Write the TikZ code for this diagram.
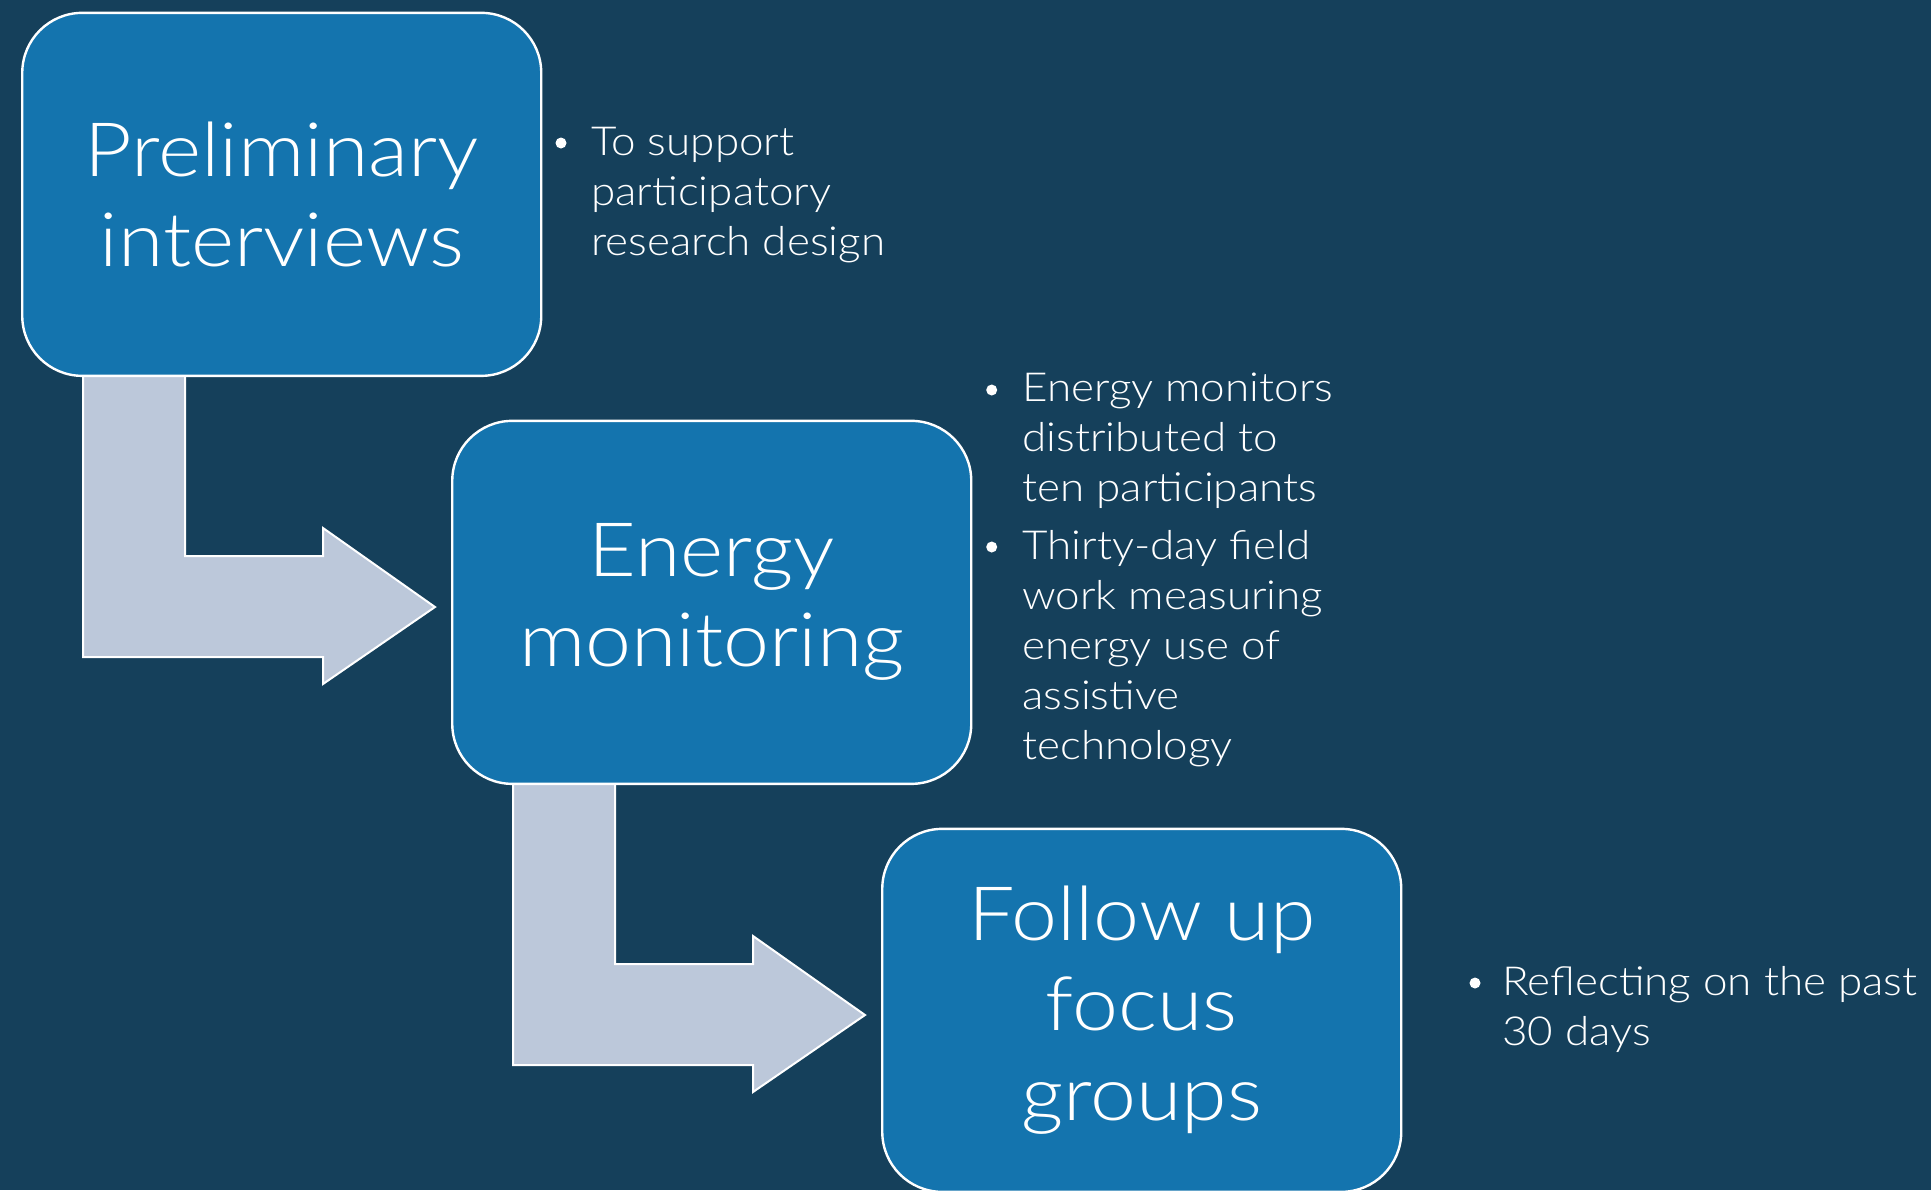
\documentclass[tikz,border=0pt]{standalone}
\usepackage{fontspec}
\setmainfont{Lato Light}[FakeStretch=1.1]
\usetikzlibrary{calc}

\definecolor{bgblue}{RGB}{21,64,91}
\definecolor{stageblue}{RGB}{20,116,174}
\definecolor{arrowgrey}{RGB}{188,200,218}

% a list of lines whose baseline is that of its first line
\newcommand{\notelines}[1]{\begin{tabular}[t]{@{}l@{}}#1\end{tabular}}

\tikzset{
  stage/.style={draw=white, line width=1.2pt, fill=stageblue, rounded corners=30pt,
    minimum width=259.5pt, minimum height=181.5pt, inner sep=0pt,
    text=white, align=center, font=\fontsize{37.5}{45}\selectfont},
  note/.style={text=white, anchor=base west, inner sep=0pt,
    font=\fontsize{20}{25}\selectfont},
  dot/.style={fill=white},
  flowarrow/.style={draw=white, line width=1pt, fill=arrowgrey, line join=miter},
  bentarrow/.pic={
    \draw[flowarrow] (61,-4) -- (163,-4) -- (163,180) -- (301,180) -- (301,152)
      -- (413,231) -- (301,308) -- (301,281) -- (61,281) -- cycle;
  }
}

\begin{document}
\begin{tikzpicture}[x=0.5pt, y=-0.5pt]
  \useasboundingbox (0,0) rectangle (1931,1190);
  \fill[bgblue] (0,0) rectangle (1931,1190);

  % bent arrows between the stages (drawn first, boxes cover their tops)
  \coordinate (a1) at (22,376);
  \coordinate (a2) at (452,784);
  \pic at (a1) {bentarrow};
  \pic at (a2) {bentarrow};

  % stages
  \node[stage] (s1) at (281.75,194.35) {Preliminary\\interviews};
  \node[stage] (s2) at (711.75,602.35) {Energy\\monitoring};
  \node[stage] (s3) at (1141.75,1010.35) {Follow up\\focus\\groups};

  % notes beside each stage
  \node[note] (n1) at (591,155) {\notelines{To support\\participatory\\research design}};
  \fill[dot] (561,143) circle (5.5);

  \node[note] (n2) at (1022,401.7) {\notelines{Energy monitors\\distributed to\\ten participants}};
  \fill[dot] (991.7,390) circle (5.5);
  \node[note] (n3) at (1022,559) {\notelines{Thirty-day field\\work measuring\\energy use of\\assistive\\technology}};
  \fill[dot] (991.7,547) circle (5.5);

  \node[note] (n4) at (1502,995) {\notelines{Reflecting on the past\\30 days}};
  \fill[dot] (1475,983) circle (5.5);
\end{tikzpicture}
\end{document}
